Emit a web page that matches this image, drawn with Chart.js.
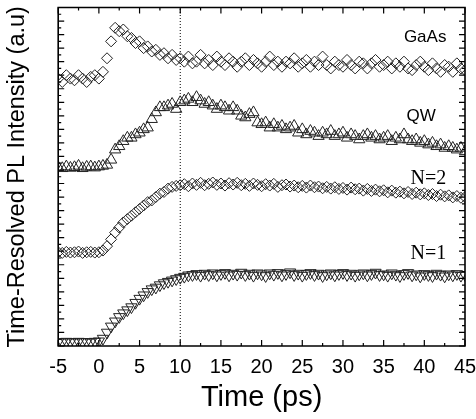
<!DOCTYPE html>
<html>
<head>
<meta charset="utf-8">
<script src="https://cdn.jsdelivr.net/npm/chart.js@4/dist/chart.umd.min.js"></script>
<style>
  html, body { margin: 0; padding: 0; background: #fff; }
  #wrap { width: 476px; height: 419px; }
</style>
</head>
<body>
<div id="wrap"><canvas id="plChart"></canvas></div>
<script>
// Tiempos (ps)
const times = [
  -5, -4.5, -4, -3.5, -3, -2.5, -2, -1.5, -1, -0.5,
  0, 0.5, 1, 1.5, 2, 2.5, 3, 3.5, 4, 4.5,
  5, 5.5, 6, 6.5, 7, 7.5, 8, 8.5, 9, 9.5,
  10, 10.5, 11, 11.5, 12, 12.5, 13, 13.5, 14, 14.5,
  15, 15.5, 16, 16.5, 17, 17.5, 18, 18.5, 19, 19.5,
  20, 20.5, 21, 21.5, 22, 22.5, 23, 23.5, 24, 24.5,
  25, 25.5, 26, 26.5, 27, 27.5, 28, 28.5, 29, 29.5,
  30, 30.5, 31, 31.5, 32, 32.5, 33, 33.5, 34, 34.5,
  35, 35.5, 36, 36.5, 37, 37.5, 38, 38.5, 39, 39.5,
  40, 40.5, 41, 41.5, 42, 42.5, 43, 43.5, 44, 44.5,
  45
];

// Intensidades (unidades arbitrarias, curvas desplazadas)
const gaas = [
  79, 78, 80, 79, 78.5, 80, 79, 78, 79.5, 80,
  79, 81, 85, 90, 94, 93, 93.5, 91.5, 91, 89.5,
  90, 88, 88.5, 87, 87.5, 86, 86.5, 85, 86, 84.5,
  85, 84, 85.5, 83.5, 84, 86, 83.5, 84.5, 83, 85.5,
  84, 83, 85, 84, 82.5, 84, 85, 83, 84.5, 83.5,
  82.5, 84, 85.5, 83, 84, 82.5, 84, 83.5, 85, 82.5,
  83.5, 84.5, 82.5, 84, 83, 85.5, 83, 82, 84, 83,
  82.5, 84.5, 83, 82, 84, 83.5, 82, 83.5, 84.5, 82.5,
  83, 84, 82, 83.5, 82.5, 84, 82, 81.5, 83, 84,
  82.5, 81.5, 83.5, 82, 81, 83, 82.5, 81, 83.5, 82,
  81.5
];

const qw = [
  52.8, 52.5, 53, 52.6, 52.8, 53.2, 52.5, 52.9, 53, 52.7,
  53, 53.2, 53.5, 55, 58, 59, 60.5, 61.5, 61.5, 62.5,
  63, 64, 64.5, 67, 69, 70.5, 70.5, 71, 71.5, 70,
  72, 72.5, 73, 72, 73.5, 72.5, 71.5, 72, 71, 70,
  71, 70.5, 69.5, 70.5, 69.5, 68, 67.5, 68.5, 69, 66,
  65.5, 66, 64.5, 65.5, 64.5, 65, 64, 64.5, 65, 63,
  64, 62.5, 63.5, 63, 62, 63, 62.5, 63.5, 62, 62.5,
  63, 61.5, 62.5, 62, 61, 62, 62.5, 61.5, 62, 61,
  61.5, 62, 60.5, 61.5, 61, 62.5, 61, 60.5, 61, 60,
  60.5, 59.5, 60, 59, 59.5, 58.5, 59, 58.5, 58, 58.5,
  57.5
];

const n2 = [
  27.7, 27.5, 27.8, 27.6, 27.7, 27.9, 27.5, 27.7, 27.8, 27.6,
  27.7, 28.2, 29.5, 31.5, 33.5, 35, 36.5, 37.5, 38.5, 39.5,
  40.5, 41.5, 42.5, 43, 44, 45, 45.5, 46.5, 47, 47.3,
  47.5, 47.8, 47.2, 48, 47.6, 48.2, 47.5, 47.9, 48.3, 47.6,
  48, 47.4, 48.1, 47.7, 48.2, 47.5, 47.9, 47.3, 48, 47.6,
  47.2, 47.8, 47.4, 47.9, 47, 47.5, 47.7, 47.1, 47.4, 46.9,
  47.3, 46.8, 47.4, 46.9, 47.1, 46.6, 47, 46.5, 46.9, 46.4,
  46.7, 46.2, 46.8, 46.3, 46.5, 45.9, 46.4, 45.8, 46.2, 45.7,
  46, 45.4, 45.9, 45.3, 45.6, 45.1, 45.5, 44.9, 45.3, 44.8,
  45.1, 44.6, 44.9, 44.3, 44.7, 44.2, 44.5, 43.9, 44.3, 43.8,
  44
];

const n1 = [
  1.2, 1.1, 1.3, 1.2, 1.1, 1.3, 1.2, 1.2, 1.1, 1.3,
  1.4, 2.2, 4, 5.8, 7.3, 8.6, 9.7, 10.6, 11.5, 12.8,
  14, 15, 16, 16.8, 17.3, 18, 18.6, 19, 19.4, 19.8,
  20.2, 20.5, 20.9, 21, 21.3, 20.8, 21.4, 21, 21.5, 20.9,
  21.3, 21.6, 20.9, 21.4, 21.1, 21.7, 21, 21.4, 20.8, 21.5,
  21.2, 20.7, 21.5, 21.1, 21.6, 20.9, 21.3, 21.8, 21, 21.4,
  20.8, 21.3, 21.6, 21, 21.4, 20.7, 21.2, 21.5, 20.9, 21.3,
  21.6, 21, 21.4, 20.8, 21.2, 21.5, 20.9, 21.3, 21.7, 21,
  21.2, 20.8, 21.5, 21.1, 20.7, 21.3, 21.6, 20.9, 21.2, 20.6,
  21.3, 21, 20.7, 21.4, 21.1, 20.6, 21.2, 20.9, 21.3, 20.8,
  21
];

// Etiquetas de las curvas (posición en unidades de datos)
const curveLabels = ['GaAs', 'QW', 'N=2', 'N=1'];
const labelX = [40.1, 39.6, 40.5, 40.5];
const labelY = [91.2, 67.8, 49.4, 27.3];
const labelSerif = [false, false, true, true];

// Línea vertical punteada en t = 10 ps
const markerTime = 10;

const Y_MIN = 0;
const Y_MAX = 100;

function toPoints(vals) {
    return times.map((t, i) => ({ x: t, y: vals[i] }));
}

const MARK = '#222';

// Marco y marcas hacia dentro + etiquetas
const framePlugin = {
    id: 'frame',
    afterDraw(chart) {
        const c = chart.ctx;
        const a = chart.chartArea;
        const xs = chart.scales.x, ys = chart.scales.y;
        c.save();
        c.setLineDash([]);
        c.strokeStyle = '#000';
        c.lineWidth = 1.6;
        c.beginPath();
        c.rect(a.left, a.top, a.right - a.left, a.bottom - a.top);
        c.stroke();

        c.lineWidth = 1.2;
        c.beginPath();
        const xt = xs.ticks.map(t => t.value);
        xt.forEach((v, i) => {
            const px = xs.getPixelForValue(v);
            c.moveTo(px, a.bottom); c.lineTo(px, a.bottom - 6);
            c.moveTo(px, a.top); c.lineTo(px, a.top + 6);
            if (i < xt.length - 1) {
                const mx = xs.getPixelForValue((v + xt[i + 1]) / 2);
                c.moveTo(mx, a.bottom); c.lineTo(mx, a.bottom - 3);
                c.moveTo(mx, a.top); c.lineTo(mx, a.top + 3);
            }
        });
        const yt = ys.ticks.map(t => t.value);
        yt.forEach((v, i) => {
            const py = ys.getPixelForValue(v);
            c.moveTo(a.left, py); c.lineTo(a.left + 6, py);
            c.moveTo(a.right, py); c.lineTo(a.right - 6, py);
            if (i < yt.length - 1) {
                const my = ys.getPixelForValue((v + yt[i + 1]) / 2);
                c.moveTo(a.left, my); c.lineTo(a.left + 3, my);
                c.moveTo(a.right, my); c.lineTo(a.right - 3, my);
            }
        });
        c.stroke();

        c.fillStyle = '#000';
        c.textAlign = 'center';
        c.textBaseline = 'middle';
        curveLabels.forEach((txt, i) => {
            c.font = labelSerif[i]
                ? '20px "Liberation Serif", "Times New Roman", serif'
                : '17px "Liberation Sans", Arial, sans-serif';
            c.fillText(txt, xs.getPixelForValue(labelX[i]), ys.getPixelForValue(labelY[i]));
        });
        c.restore();
    }
};

const scatterStyle = (data, style, rotation, radius) => ({
    data: toPoints(data),
    showLine: false,
    pointStyle: style,
    rotation: rotation,
    pointRadius: radius,
    pointBorderWidth: 1,
    pointBorderColor: MARK,
    pointBackgroundColor: 'rgba(0,0,0,0)',
    borderColor: MARK,
    backgroundColor: 'rgba(0,0,0,0)'
});

const chart = new Chart(document.getElementById('plChart').getContext('2d'), {
    type: 'scatter',
    data: {
        datasets: [
            Object.assign({ label: 'GaAs' }, scatterStyle(gaas, 'rectRot', 0, 5.5)),
            Object.assign({ label: 'QW' }, scatterStyle(qw, 'triangle', 0, 6.5)),
            Object.assign({ label: 'N=2' }, scatterStyle(n2, 'rectRot', 0, 5.5)),
            Object.assign({ label: 'N=1' }, scatterStyle(n1, 'triangle', 180, 6.5)),
            {
                label: 't0',
                data: [{ x: markerTime, y: Y_MIN }, { x: markerTime, y: Y_MAX }],
                showLine: true,
                borderColor: '#000',
                borderWidth: 1,
                borderDash: [1, 2],
                pointRadius: 0
            }
        ]
    },
    options: {
        responsive: true,
        maintainAspectRatio: false,
        animation: false,
        layout: { padding: { top: 7, right: 0, bottom: 0, left: 0 } },
        plugins: {
            legend: { display: false },
            tooltip: { enabled: false }
        },
        scales: {
            x: {
                type: 'linear',
                min: -5,
                max: 45,
                grid: { display: false, drawTicks: false },
                border: { display: false },
                ticks: {
                    stepSize: 5,
                    color: '#000',
                    padding: 9,
                    maxRotation: 0,
                    font: { size: 20, family: '"Liberation Sans", Arial, sans-serif' }
                },
                title: {
                    display: true,
                    text: 'Time (ps)',
                    color: '#000',
                    padding: { top: 2, bottom: 4 },
                    font: { size: 29, family: '"Liberation Sans", Arial, sans-serif' }
                },
                afterFit(scale) {
                    scale.paddingRight = 11;
                    scale.height = 73;
                }
            },
            y: {
                min: Y_MIN,
                max: Y_MAX,
                grid: { display: false, drawTicks: false },
                border: { display: false },
                ticks: { display: false, stepSize: 4 },
                title: {
                    display: true,
                    text: 'Time-Resolved PL Intensity (a.u)',
                    color: '#000',
                    padding: { top: 3, bottom: 27 },
                    font: { size: 23.5, family: '"Liberation Sans", Arial, sans-serif' }
                }
            }
        }
    },
    plugins: [framePlugin]
});
</script>
</body>
</html>
